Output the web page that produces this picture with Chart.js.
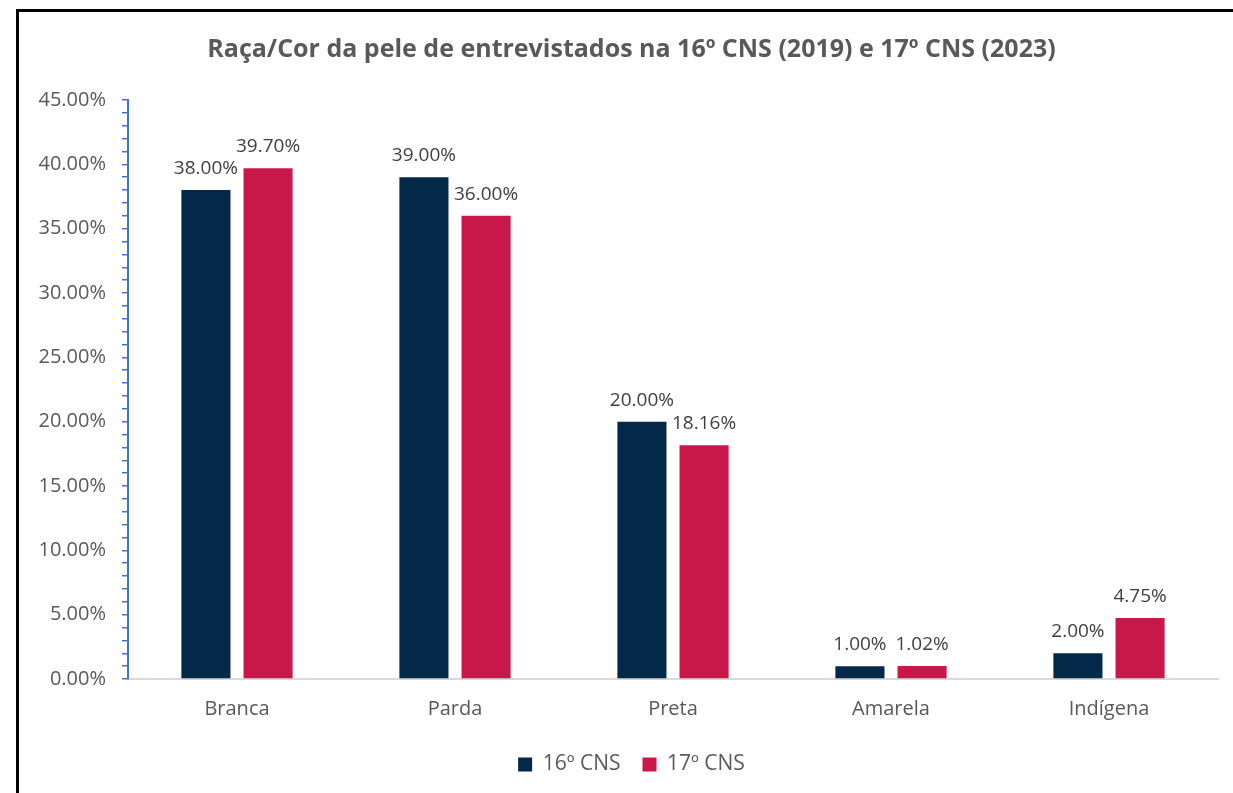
<!DOCTYPE html>
<html>
<head>
<meta charset="utf-8">
<script src="https://cdn.jsdelivr.net/npm/chart.js@4.4.1/dist/chart.umd.min.js"></script>
<style>
  html, body { margin: 0; padding: 0; background: #fff; overflow: hidden; }
  #frame { position: absolute; left: 16px; top: 9px; width: 1400px; height: 1000px; border: 3px solid #000; box-sizing: border-box; }
  #wrap { position: absolute; left: 0; top: 0; width: 1233px; height: 793px; }
</style>
</head>
<body>
<div id="frame"></div>
<div id="wrap"><canvas id="grafico"></canvas></div>
<script>
// Datos del gráfico
const categorias = ['Branca', 'Parda', 'Preta', 'Amarela', 'Indígena'];
const serie16 = [38.00, 39.00, 20.00, 1.00, 2.00];
const serie17 = [39.70, 36.00, 18.16, 1.02, 4.75];
const nombresSeries = ['16º CNS', '17º CNS'];
const ejeYMax = 45;
const ejeYPasoEtiqueta = 5;

const COLOR_16 = '#042848';
const COLOR_17 = '#C8184A';
const GRIS_TEXTO = '#595959';
const FUENTE = '"Open Sans", Lato, sans-serif';

// Etiquetas de valor encima de cada barra
const etiquetasBarras = {
    id: 'etiquetasBarras',
    afterDatasetsDraw(chart) {
        const ctx = chart.ctx;
        ctx.save();
        ctx.font = '19px ' + FUENTE;
        ctx.fillStyle = '#404040';
        ctx.textAlign = 'center';
        ctx.textBaseline = 'alphabetic';
        chart.data.datasets.forEach((ds, i) => {
            const meta = chart.getDatasetMeta(i);
            meta.data.forEach((bar, j) => {
                ctx.fillText(ds.data[j].toFixed(2) + '%', bar.x, bar.y - 16);
            });
        });
        ctx.restore();
    }
};

// El eje Y se estrecha para centrar título y leyenda; ensanchamos su caja para que no recorte las etiquetas
const ampliarEjeY = {
    id: 'ampliarEjeY',
    afterLayout(chart) {
        chart.scales.y.left = 0;
    }
};

new Chart(document.getElementById('grafico'), {
    type: 'bar',
    data: {
        labels: categorias,
        datasets: [
            { label: nombresSeries[0], data: serie16, backgroundColor: COLOR_16, categoryPercentage: 0.57, barPercentage: 0.79 },
            { label: nombresSeries[1], data: serie17, backgroundColor: COLOR_17, categoryPercentage: 0.57, barPercentage: 0.79 }
        ]
    },
    options: {
        responsive: true,
        maintainAspectRatio: false,
        animation: false,
        layout: { padding: { top: 14, right: 15, bottom: 8, left: 45 } },
        scales: {
            x: {
                afterFit(scale) { scale.height -= 7; },
                grid: { display: true, drawOnChartArea: false, drawTicks: false, color: 'rgba(0,0,0,0)' },
                border: { display: true, color: '#D9D9D9', width: 2 },
                ticks: { color: GRIS_TEXTO, font: { size: 20, family: FUENTE }, padding: 18 }
            },
            y: {
                min: 0,
                max: ejeYMax,
                afterFit(scale) { scale.width = 83; },
                grid: { drawOnChartArea: false, drawTicks: true, tickLength: 6, color: '#4472C4', lineWidth: 1.5 },
                border: { display: true, color: '#4472C4', width: 2 },
                ticks: {
                    stepSize: 1,
                    autoSkip: false,
                    padding: 16,
                    color: GRIS_TEXTO,
                    font: { size: 20, family: FUENTE },
                    callback: v => (v % ejeYPasoEtiqueta === 0 ? v.toFixed(2) + '%' : '')
                }
            }
        },
        plugins: {
            title: {
                display: true,
                text: 'Raça/Cor da pele de entrevistados na 16º CNS (2019) e 17º CNS (2023)',
                color: GRIS_TEXTO,
                font: { size: 25, weight: 'bold', family: FUENTE },
                padding: { top: 21, bottom: 35 }
            },
            legend: {
                position: 'bottom',
                labels: {
                    boxWidth: 14,
                    boxHeight: 14,
                    color: GRIS_TEXTO,
                    font: { size: 21, family: FUENTE },
                    padding: 22
                }
            },
            tooltip: { enabled: false }
        }
    },
    plugins: [etiquetasBarras, ampliarEjeY]
});
</script>
</body>
</html>
